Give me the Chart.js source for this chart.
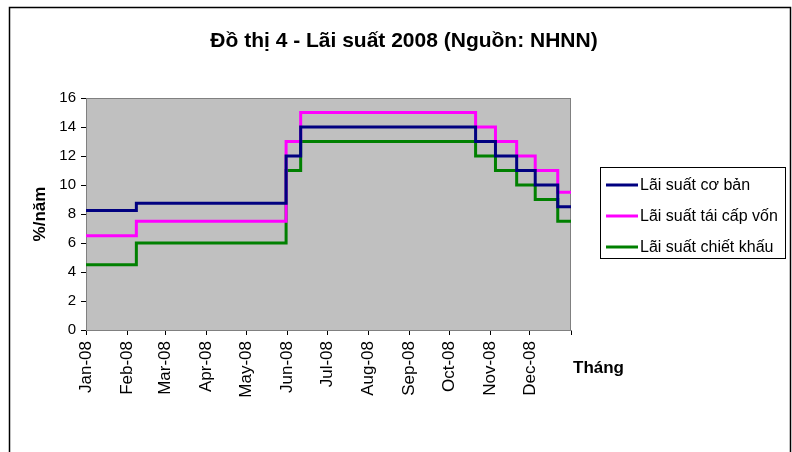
<!DOCTYPE html>
<html>
<head>
<meta charset="utf-8">
<script src="https://cdn.jsdelivr.net/npm/chart.js@4"></script>
<style>
  html, body { margin: 0; padding: 0; background: #fff; }
  #wrap { width: 792px; height: 452px; }
</style>
</head>
<body>
<div id="wrap"><canvas id="rate-chart" width="792" height="452"></canvas></div>
<script>
// ngay thay doi lai suat (doc tu hinh)
const changeDates = ['2008-01-01', '2008-02-08', '2008-05-31', '2008-06-11', '2008-10-21',
    '2008-11-05', '2008-11-21', '2008-12-05', '2008-12-22', '2009-01-01'];
const coBan = [8.25, 8.75, 12, 14, 13, 12, 11, 10, 8.5, 8.5];
const taiCapVon = [6.5, 7.5, 13, 15, 14, 13, 12, 11, 9.5, 9.5];
const chietKhau = [4.5, 6, 11, 13, 12, 11, 10, 9, 7.5, 7.5];
const seriesNames = ['Lãi suất cơ bản', 'Lãi suất tái cấp vốn', 'Lãi suất chiết khấu'];
const seriesColors = ['#000080', '#FF00FF', '#008000'];
const monthStarts = ['2008-01-01', '2008-02-01', '2008-03-01', '2008-04-01', '2008-05-01', '2008-06-01',
    '2008-07-01', '2008-08-01', '2008-09-01', '2008-10-01', '2008-11-01', '2008-12-01', '2009-01-01'];
const monthLabels = ['Jan-08', 'Feb-08', 'Mar-08', 'Apr-08', 'May-08', 'Jun-08',
    'Jul-08', 'Aug-08', 'Sep-08', 'Oct-08', 'Nov-08', 'Dec-08', ''];
const yTicks = [0, 2, 4, 6, 8, 10, 12, 14, 16];

const FONT = "'Liberation Sans', Arial, sans-serif";

function dayOf(s) {
    return (Date.parse(s) - Date.parse('2008-01-01')) / 86400000;
}

const monthDays = monthStarts.map(dayOf);

function toPoints(vals) {
    return changeDates.map((d, i) => ({ x: dayOf(d), y: vals[i] }));
}

const rateData = {
    datasets: [coBan, taiCapVon, chietKhau].map((vals, i) => ({
        label: seriesNames[i],
        data: toPoints(vals),
        borderColor: seriesColors[i],
        backgroundColor: seriesColors[i],
        borderWidth: 3,
        pointRadius: 0,
        stepped: true,
        fill: false
    }))
};

const excelLook = {
    id: 'excelLook',
    beforeDraw(chart) {
        const { ctx, chartArea: a } = chart;
        ctx.save();
        // khung ngoai
        ctx.strokeStyle = '#000';
        ctx.lineWidth = 1.5;
        ctx.strokeRect(9.5, 7.5, 781, 460);
        // nen vung ve
        ctx.fillStyle = '#C0C0C0';
        ctx.fillRect(a.left, a.top, a.right - a.left, a.bottom - a.top);
        ctx.strokeStyle = '#808080';
        ctx.lineWidth = 1;
        ctx.strokeRect(a.left + 0.5, a.top + 0.5, a.right - a.left - 1, a.bottom - a.top);
        ctx.restore();
    },
    afterDraw(chart) {
        const { ctx } = chart;
        ctx.save();
        ctx.fillStyle = '#000';
        ctx.textBaseline = 'middle';

        // tieu de
        ctx.font = 'bold 21px ' + FONT;
        ctx.textAlign = 'center';
        ctx.fillText('Đồ thị 4 - Lãi suất 2008 (Nguồn: NHNN)', 404, 41);

        // ten truc
        ctx.font = 'bold 17px ' + FONT;
        ctx.textAlign = 'left';
        ctx.fillText('Tháng', 573, 368);
        ctx.save();
        ctx.translate(40, 214);
        ctx.rotate(-Math.PI / 2);
        ctx.textAlign = 'center';
        ctx.fillText('%/năm', 0, 0);
        ctx.restore();

        // chu giai
        ctx.strokeStyle = '#000';
        ctx.lineWidth = 1;
        ctx.strokeRect(600.5, 167.5, 185, 91);
        ctx.font = '16px ' + FONT;
        ctx.textAlign = 'left';
        seriesNames.forEach((name, i) => {
            const y = 185 + i * 31;
            ctx.strokeStyle = seriesColors[i];
            ctx.lineWidth = 3;
            ctx.beginPath();
            ctx.moveTo(606, y);
            ctx.lineTo(638, y);
            ctx.stroke();
            ctx.fillText(name, 640, y + 1);
        });
        ctx.restore();
    }
};

const rateOptions = {
    responsive: false,
    devicePixelRatio: 1,
    animation: false,
    layout: {
        padding: { top: 98, right: 221, left: 0, bottom: 0 }
    },
    scales: {
        x: {
            type: 'linear',
            min: monthDays[0],
            max: monthDays[monthDays.length - 1],
            afterBuildTicks: (s) => { s.ticks = monthDays.map(v => ({ value: v })); },
            afterFit: (s) => { s.height = 122; },
            ticks: {
                autoSkip: false,
                minRotation: 90,
                maxRotation: 90,
                padding: 6,
                color: '#000',
                font: { family: FONT, size: 17 },
                callback: (v, i) => monthLabels[i]
            },
            grid: { drawOnChartArea: false, drawTicks: true, tickLength: 5, color: '#000' },
            border: { color: '#808080', width: 1 }
        },
        y: {
            min: 0,
            max: 16,
            afterBuildTicks: (s) => { s.ticks = yTicks.map(v => ({ value: v })); },
            afterFit: (s) => { s.width = 86; },
            ticks: {
                padding: 5,
                color: '#000',
                font: { family: FONT, size: 15 }
            },
            grid: { drawOnChartArea: false, drawTicks: true, tickLength: 5, color: '#000' },
            border: { color: '#808080', width: 1 }
        }
    },
    plugins: {
        legend: { display: false },
        title: { display: false },
        tooltip: { enabled: false }
    }
};

let rateChart = new Chart(document.getElementById('rate-chart'), {
    type: 'line',
    data: rateData,
    options: rateOptions,
    plugins: [excelLook]
});
</script>
</body>
</html>
